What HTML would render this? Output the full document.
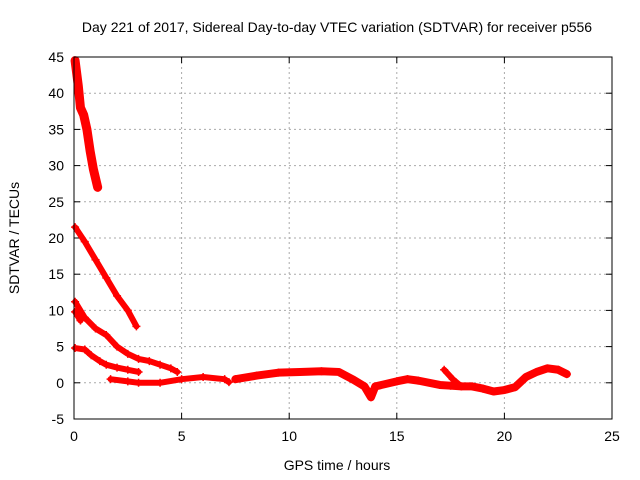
<!DOCTYPE html>
<html><head><meta charset="utf-8"><style>
body{margin:0;background:#fff}
svg{display:block;font-family:"Liberation Sans",sans-serif}
</style></head><body>
<svg id="chart" width="640" height="480">
<text x="337" y="32" text-anchor="middle" font-size="14">Day 221 of 2017, Sidereal Day-to-day VTEC variation (SDTVAR) for receiver p556</text>
<text x="337" y="470" text-anchor="middle" font-size="14">GPS time / hours</text>
<text transform="translate(19,238) rotate(-90)" text-anchor="middle" font-size="14">SDTVAR / TECUs</text>
<g id="grid"></g><g id="ticks"></g><g id="data"></g>
<rect x="74" y="57" width="538" height="362" fill="none" stroke="#000"/>
</svg>
<script>
const xTicks=[0,5,10,15,20,25];
const yTicks=[-5,0,5,10,15,20,25,30,35,40,45];
const track1=[[0.05,44.5],[0.2,41],[0.3,38],[0.45,37],[0.6,35],[0.75,32],[0.9,29.5],[1.1,27]];
const track2=[[0.05,21.5],[0.5,19.5],[1,17],[1.5,14.5],[2,12],[2.5,10],[2.9,7.8]];
const track3=[[0.05,11.2],[0.5,9],[1,7.5],[1.5,6.6],[2,5],[2.5,4],[3,3.3],[3.5,3],[4,2.5],[4.5,2],[4.8,1.5]];
const track3b=[[0.05,9.8],[0.3,8.6]];
const track4=[[0.05,4.8],[0.5,4.6],[0.8,3.8],[1.2,3],[1.5,2.5],[2,2.1],[2.5,1.8],[3,1.5]];
const track5=[[1.7,0.5],[2.5,0.2],[3,0],[4,0],[5,0.5],[6,0.8],[7,0.5],[7.2,0.1]];
const track6=[[7.5,0.5],[8.5,1],[9.5,1.4],[10.5,1.5],[11.5,1.6],[12.3,1.5],[13,0.4],[13.5,-0.5],[13.8,-2],[14,-0.5],[15,0.2],[15.5,0.5],[16,0.3],[17,-0.3],[17.5,-0.4],[18,-0.5],[18.5,-0.5],[19,-0.8],[19.5,-1.2],[20,-1],[20.5,-0.6],[21,0.8],[21.5,1.5],[22,2],[22.5,1.8],[22.9,1.2]];
const track7=[[17.2,1.8],[17.6,0.5],[18,-0.5]];
const tracks=[track1,track2,track3,track3b,track4,track5,track6,track7];
const X=v=>74+v*538/25, Y=v=>419-(v+5)*362/50;
const NS="http://www.w3.org/2000/svg";
const mk=(p,t,a)=>{const e=document.createElementNS(NS,t);for(const k in a)e.setAttribute(k,a[k]);p.appendChild(e);return e;};
const G=document.getElementById('grid'),T=document.getElementById('ticks'),D=document.getElementById('data');
xTicks.forEach(v=>{const x=X(v);
 if(v>0&&v<25){const l=mk(G,'line',{x1:x,x2:x,y1:57,y2:419,stroke:'#aaa','stroke-dasharray':'2,3'});
 
 }
 mk(T,'line',{x1:x,x2:x,y1:419,y2:413,stroke:'#000'});mk(T,'line',{x1:x,x2:x,y1:57,y2:63,stroke:'#000'});
 const t=mk(T,'text',{x:x,y:441,'text-anchor':'middle','font-size':14});t.textContent=v;
 
 });
yTicks.forEach(v=>{const y=Y(v);
 if(v>-5&&v<45){const l=mk(G,'line',{x1:74,x2:612,y1:y,y2:y,stroke:'#aaa','stroke-dasharray':'2,3'});
 
 }
 mk(T,'line',{x1:74,x2:80,y1:y,y2:y,stroke:'#000'});mk(T,'line',{x1:606,x2:612,y1:y,y2:y,stroke:'#000'});
 const t=mk(T,'text',{x:64,y:y+5,'text-anchor':'end','font-size':14});t.textContent=v;
 
 });
tracks.forEach((tr,i)=>{
 const w=(i==0?9:(i==6?8:6));
 const pl=mk(D,'polyline',{points:tr.map(p=>X(p[0])+','+Y(p[1])).join(' '),fill:'none',stroke:'#f00','stroke-width':w,'stroke-linejoin':'round','stroke-linecap':'round'});
 
 
 tr.forEach(p=>{const x=X(p[0]),y=Y(p[1]);
  mk(D,'path',{d:`M${x-4},${y}h8M${x},${y-4}v8`,stroke:'#f00','stroke-width':1.5});});
});
</script>
</body></html>
